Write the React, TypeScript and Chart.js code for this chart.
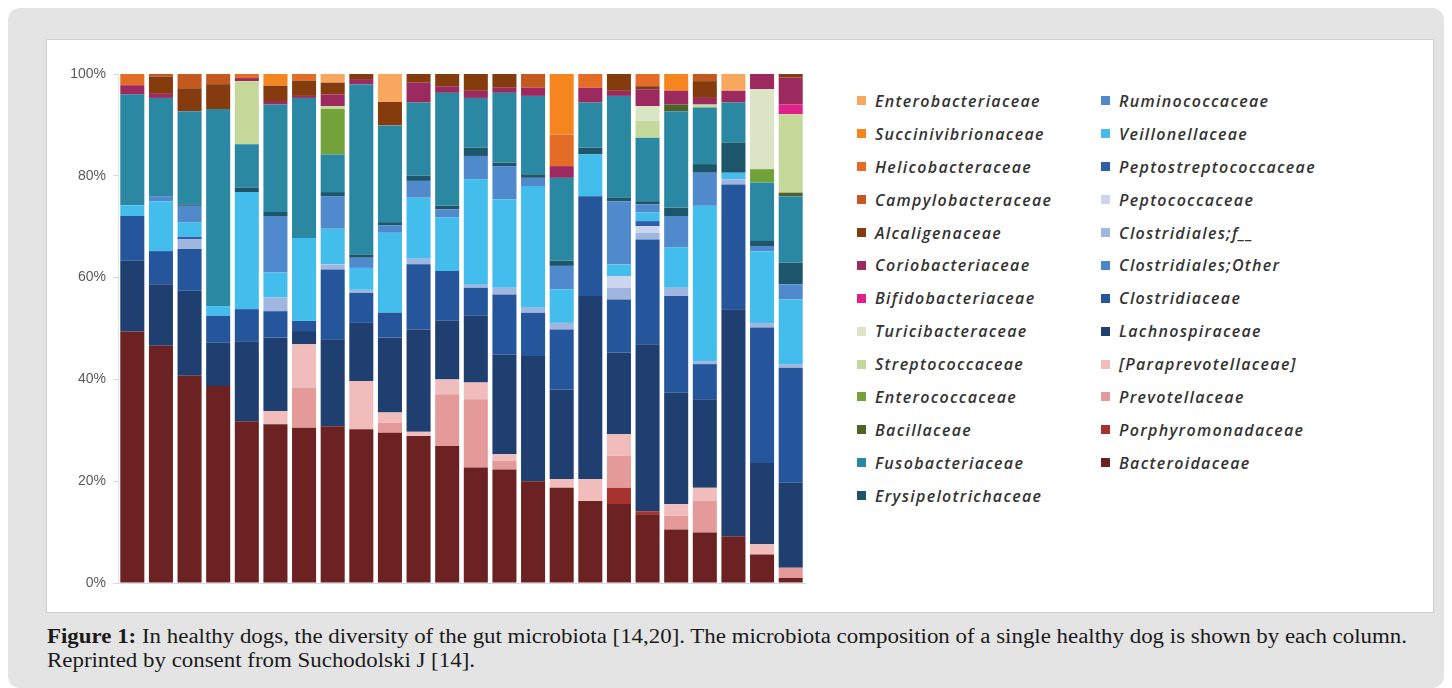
import React, { useEffect, useLayoutEffect, useRef } from "react";
import { Chart, registerables } from "chart.js";

Chart.register(...registerables);

// ---- categories (one column = one healthy dog) ----
const dogs = ["1", "2", "3", "4", "5", "6", "7", "8", "9", "10", "11", "12", "13", "14", "15", "16", "17", "18", "19", "20", "21", "22", "23", "24"];
const yTicks = [0, 20, 40, 60, 80, 100];

// ---- series values (% relative abundance), bottom of stack first ----
const bacteroidaceae = [49.4, 46.6, 40.7, 38.7, 31.8, 31.2, 30.5, 30.8, 30.2, 29.5, 28.9, 26.9, 22.7, 22.3, 20.0, 18.7, 16.1, 15.5, 13.5, 10.5, 9.9, 9.2, 5.6, 1.0];
const porphyromonadaceae = [0, 0, 0, 0, 0, 0, 0, 0, 0, 0, 0, 0, 0, 0, 0, 0, 0, 3.2, 0.6, 0, 0, 0, 0, 0];
const prevotellaceae = [0, 0, 0, 0, 0, 0, 7.9, 0, 0, 2.0, 0, 10.2, 13.4, 1.7, 0, 0, 0, 6.3, 0, 2.7, 6.2, 0, 0, 2.0];
const paraprevotellaceae = [0, 0, 0, 0, 0, 2.6, 8.5, 0, 9.5, 2.0, 0.8, 2.9, 3.3, 1.3, 0, 1.7, 4.3, 4.2, 0, 2.3, 2.6, 0, 2.0, 0];
const lachnospiraceae = [13.9, 12.1, 16.7, 8.5, 15.7, 14.4, 2.6, 17.1, 11.4, 14.7, 20.1, 11.5, 13.1, 19.6, 24.6, 17.6, 36.0, 16.1, 32.8, 21.9, 17.4, 44.6, 16.0, 16.7];
const clostridiaceae = [8.8, 6.5, 8.2, 5.3, 6.3, 5.2, 2.0, 13.7, 5.9, 4.9, 12.8, 9.8, 5.5, 11.8, 8.5, 11.8, 19.6, 10.4, 20.6, 19.0, 6.9, 24.5, 26.6, 22.6];
const clostridialesOther = [0, 0, 0, 0, 0, 0, 0, 0, 0, 0, 0, 0, 0, 0, 0, 0, 0, 0, 0, 0, 0, 0, 0, 0];
const clostridialesF = [0, 0, 1.9, 0, 0, 2.7, 0, 1.0, 0.6, 0, 1.1, 0, 0.6, 1.3, 1.0, 1.3, 0, 2.3, 1.3, 1.6, 0.6, 1.0, 0.9, 0.7];
const peptococcaceae = [0, 0, 0, 0, 0, 0, 0, 0, 0, 0, 0, 0, 0, 0, 0, 0, 0, 2.3, 1.3, 0, 0, 0, 0, 0];
const peptostreptococcaceae = [0, 0, 0.5, 0, 0, 0, 0, 0, 0, 0, 0, 0, 0, 0, 0, 0, 0, 0, 1.0, 0, 0, 0, 0, 0];
const veillonellaceae = [2.1, 9.8, 2.8, 1.9, 23.0, 4.9, 16.3, 7.0, 4.3, 15.7, 12.0, 10.5, 20.7, 17.4, 23.9, 6.6, 8.2, 2.3, 1.7, 7.9, 30.5, 1.3, 14.1, 12.7];
const ruminococcaceae = [0, 1.0, 3.3, 0, 0, 11.1, 0, 6.4, 2.0, 1.5, 3.3, 1.6, 4.6, 6.5, 1.6, 4.6, 0, 12.4, 1.6, 6.2, 6.5, 0, 1.0, 3.0];
const erysipelotrichaceae = [0, 0, 0.3, 0, 0.9, 0.8, 0, 0.8, 0.6, 0.6, 1.0, 0.7, 1.6, 0.7, 0.7, 1.0, 1.3, 0.7, 0.6, 1.6, 1.7, 5.9, 1.0, 4.2];
const fusobacteriaceae = [21.8, 19.3, 18.3, 38.7, 8.5, 21.1, 27.5, 7.4, 33.5, 19.0, 14.4, 22.2, 9.8, 13.7, 15.4, 16.3, 8.9, 20.0, 12.5, 19.0, 11.1, 7.9, 11.5, 13.1];
const bacillaceae = [0, 0, 0, 0, 0, 0, 0, 0, 0, 0, 0, 0, 0, 0, 0, 0, 0, 0, 0, 1.3, 0, 0, 0, 0.7];
const enterococcaceae = [0, 0, 0, 0, 0, 0, 0, 8.9, 0, 0, 0, 0, 0, 0, 0, 0, 0, 0, 0, 0, 0, 0, 2.6, 0];
const streptococcaceae = [0, 0, 0, 0, 12.4, 0, 0, 0.6, 0, 0, 0, 0, 0, 0, 0, 0, 0, 0, 3.3, 0, 0.6, 0, 0, 15.4];
const turicibacteraceae = [0, 0, 0, 0, 0, 0, 0, 0, 0, 0, 0, 0, 0, 0, 0, 0, 0, 0, 2.9, 0, 0, 0, 15.7, 0];
const bifidobacteriaceae = [0, 0, 0, 0, 0, 0, 0, 0, 0, 0, 0, 0, 0, 0, 0, 0, 0, 0, 0, 0, 0, 0, 0, 1.9];
const coriobacteriaceae = [1.8, 0.8, 0, 0, 0.6, 0.7, 0.4, 2.3, 1.0, 0, 3.9, 1.3, 1.4, 1.0, 1.6, 2.3, 2.9, 1.0, 3.3, 2.7, 1.3, 2.3, 3.0, 5.3];
const alcaligenaceae = [0, 3.4, 4.5, 4.9, 0, 3.0, 3.0, 2.3, 1.0, 4.6, 1.7, 2.4, 3.3, 2.7, 0, 0, 0, 3.3, 0.6, 0, 3.3, 0, 0, 0.7];
const campylobacteraceae = [0, 0.5, 2.8, 2.0, 0, 0, 0, 0, 0, 0, 0, 0, 0, 0, 2.7, 0, 0, 0, 0, 0, 1.4, 0, 0, 0];
const helicobacteraceae = [2.2, 0, 0, 0, 0.8, 0, 1.3, 0, 0, 0, 0, 0, 0, 0, 0, 6.2, 2.7, 0, 2.4, 0, 0, 0, 0, 0];
const succinivibrionaceae = [0, 0, 0, 0, 0, 2.3, 0, 0, 0, 0, 0, 0, 0, 0, 0, 11.9, 0, 0, 0, 3.3, 0, 0, 0, 0];
const enterobacteriaceae = [0, 0, 0, 0, 0, 0, 0, 1.7, 0, 5.5, 0, 0, 0, 0, 0, 0, 0, 0, 0, 0, 0, 3.3, 0, 0];

type Series = { name: string; color: string; data: number[] };

// stacking order: first = bottom of each column
const series: Series[] = [
  { name: "Bacteroidaceae", color: "#6c2222", data: bacteroidaceae },
  { name: "Porphyromonadaceae", color: "#a8322e", data: porphyromonadaceae },
  { name: "Prevotellaceae", color: "#e39a98", data: prevotellaceae },
  { name: "[Paraprevotellaceae]", color: "#f0bcbc", data: paraprevotellaceae },
  { name: "Lachnospiraceae", color: "#1e3f6f", data: lachnospiraceae },
  { name: "Clostridiaceae", color: "#25559b", data: clostridiaceae },
  { name: "Clostridiales;Other", color: "#4a86c8", data: clostridialesOther },
  { name: "Clostridiales;f__", color: "#9fb6df", data: clostridialesF },
  { name: "Peptococcaceae", color: "#cdd5ee", data: peptococcaceae },
  { name: "Peptostreptococcaceae", color: "#2f5ea8", data: peptostreptococcaceae },
  { name: "Veillonellaceae", color: "#42bdec", data: veillonellaceae },
  { name: "Ruminococcaceae", color: "#508acc", data: ruminococcaceae },
  { name: "Erysipelotrichaceae", color: "#1d566a", data: erysipelotrichaceae },
  { name: "Fusobacteriaceae", color: "#2b88a2", data: fusobacteriaceae },
  { name: "Bacillaceae", color: "#4f6228", data: bacillaceae },
  { name: "Enterococcaceae", color: "#74a23a", data: enterococcaceae },
  { name: "Streptococcaceae", color: "#c4d89a", data: streptococcaceae },
  { name: "Turicibacteraceae", color: "#dbe5c6", data: turicibacteraceae },
  { name: "Bifidobacteriaceae", color: "#e0218a", data: bifidobacteriaceae },
  { name: "Coriobacteriaceae", color: "#9c2a5e", data: coriobacteriaceae },
  { name: "Alcaligenaceae", color: "#843c0e", data: alcaligenaceae },
  { name: "Campylobacteraceae", color: "#c4591f", data: campylobacteraceae },
  { name: "Helicobacteraceae", color: "#e46c26", data: helicobacteraceae },
  { name: "Succinivibrionaceae", color: "#f5861f", data: succinivibrionaceae },
  { name: "Enterobacteriaceae", color: "#f7a85e", data: enterobacteriaceae },
];

const legendOrder = [...series].reverse();
const legendCol1 = legendOrder.slice(0, 13);
const legendCol2 = legendOrder.slice(13);

export default function App() {
  const canvasRef = useRef<HTMLCanvasElement | null>(null);
  const capRef = useRef<HTMLDivElement | null>(null);
  const line1Ref = useRef<HTMLSpanElement | null>(null);

  useEffect(() => {
    if (!canvasRef.current) return;
    const chart = new Chart(canvasRef.current, {
      type: "bar",
      data: {
        labels: dogs,
        datasets: series.map((s) => ({
          label: s.name,
          data: s.data,
          backgroundColor: s.color,
          borderWidth: 0,
          barPercentage: 0.84,
          categoryPercentage: 1.0,
        })),
      },
      options: {
        animation: false,
        responsive: false,
        maintainAspectRatio: false,
        devicePixelRatio: 1,
        layout: { padding: { left: 6, top: 34, right: 42, bottom: 29 } },
        plugins: { legend: { display: false }, tooltip: { enabled: false } },
        scales: {
          x: {
            stacked: true,
            ticks: { display: false },
            grid: { display: true, drawOnChartArea: false, drawTicks: false, color: "#d9d9d9" },
            border: { display: true, color: "#d9d9d9" },
            afterFit: (s: any) => {
              s.height = 0;
            },
          },
          y: {
            stacked: true,
            min: 0,
            max: 100,
            afterBuildTicks: (s: any) => {
              s.ticks = yTicks.map((v) => ({ value: v }));
            },
            ticks: {
              padding: 7,
              color: "#5a5a5a",
              font: { family: "'Liberation Sans', Arial, sans-serif", size: 14 },
              callback: (v: any) => `${v}%`,
            },
            grid: { display: true, drawOnChartArea: false, drawTicks: true, tickLength: 5, color: "#d9d9d9" },
            border: { display: true, color: "#e3e3e3" },
            afterFit: (s: any) => {
              s.width = 65;
            },
          },
        },
      },
    });
    return () => chart.destroy();
  }, []);

  useLayoutEffect(() => {
    if (line1Ref.current && capRef.current) {
      const w = line1Ref.current.getBoundingClientRect().width;
      if (w > 0) {
        capRef.current.style.transform = `scaleX(${1360 / w})`;
      }
    }
  }, []);

  const legendItem = (s: Series) => (
    <div key={s.name} style={{ height: 32.9, display: "flex", alignItems: "center" }}>
      <span style={{ width: 9, height: 9, background: s.color, display: "inline-block", marginRight: 9, flex: "none" }} />
      <span>{s.name}</span>
    </div>
  );

  return (
    <div
      style={{
        position: "relative",
        width: 1436,
        height: 680,
        background: "#e4e4e4",
        borderRadius: 12,
        overflow: "hidden",
      }}
    >
      <div
        style={{
          position: "absolute",
          left: 39,
          top: 32,
          width: 1386,
          height: 572,
          background: "#ffffff",
          boxShadow: "0 0 0 1px #cfcfcf",
        }}
      >
        <canvas ref={canvasRef} width={800} height={572} style={{ position: "absolute", left: 0, top: 0, width: 800, height: 572 }} />
        <div
          style={{
            position: "absolute",
            top: 44.5,
            left: 810,
            display: "flex",
            fontFamily: "'Open Sans', sans-serif",
            fontStyle: "italic",
            fontWeight: 600,
            fontSize: 16,
            letterSpacing: 1.3,
            color: "#333333",
          }}
        >
          <div style={{ width: 244 }}>{legendCol1.map(legendItem)}</div>
          <div>{legendCol2.map(legendItem)}</div>
        </div>
      </div>
      <div
        ref={capRef}
        style={{
          position: "absolute",
          left: 39,
          top: 616,
          fontFamily: "'Liberation Serif', 'Times New Roman', serif",
          fontSize: 20,
          lineHeight: "24px",
          color: "#1a1a1a",
          whiteSpace: "nowrap",
          transformOrigin: "left top",
        }}
      >
        <span ref={line1Ref}>
          <b>Figure 1:</b> In healthy dogs, the diversity of the gut microbiota [14,20]. The microbiota composition of a single healthy dog is shown by each column.
        </span>
        <br />
        <span>Reprinted by consent from Suchodolski J [14].</span>
      </div>
    </div>
  );
}
